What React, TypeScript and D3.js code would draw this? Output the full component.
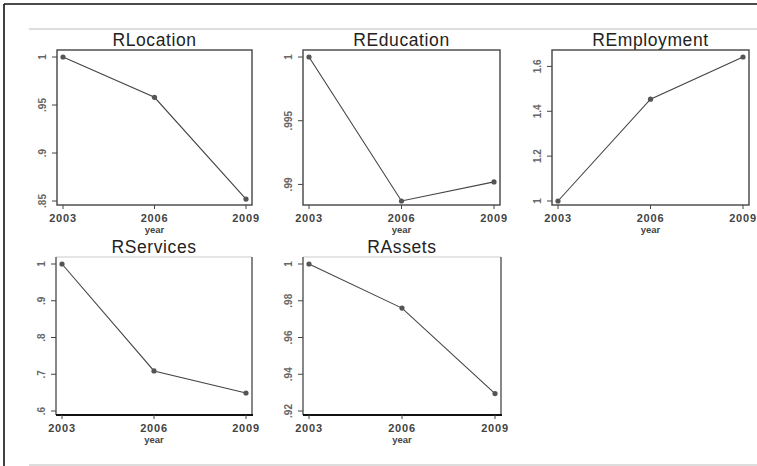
import React from "react";
import * as d3 from "d3";

const years = [2003, 2006, 2009];
const titles = ["RLocation", "REducation", "REmployment", "RServices", "RAssets"];
const rLocation = [1, 0.958, 0.852];
const rEducation = [1, 0.9887, 0.9902];
const rEmployment = [1, 1.454, 1.642];
const rServices = [1, 0.709, 0.649];
const rAssets = [1, 0.976, 0.9295];
const ticksLocation = [0.85, 0.9, 0.95, 1];
const ticksEducation = [0.99, 0.995, 1];
const ticksEmployment = [1, 1.2, 1.4, 1.6];
const ticksServices = [0.6, 0.7, 0.8, 0.9, 1];
const ticksAssets = [0.92, 0.94, 0.96, 0.98, 1];

const fmt = (v: number) => {
  const s = String(+v.toFixed(3));
  return s.startsWith("0.") ? s.slice(1) : s;
};

const panels = [
  { title: titles[0], values: rLocation, ticks: ticksLocation, box: [57, 50, 252, 205], row: 0 },
  { title: titles[1], values: rEducation, ticks: ticksEducation, box: [303, 50, 500, 205], row: 0 },
  { title: titles[2], values: rEmployment, ticks: ticksEmployment, box: [552, 50, 749, 205], row: 0 },
  { title: titles[3], values: rServices, ticks: ticksServices, box: [56, 257, 252, 415], row: 1 },
  { title: titles[4], values: rAssets, ticks: ticksAssets, box: [303, 257, 501, 415], row: 1 },
];

const FONT = "'Liberation Sans', Arial, sans-serif";

function Panel({ p }: { p: (typeof panels)[number] }) {
  const [l, t, r, b] = p.box;
  const x = d3.scaleLinear().domain([2003, 2009]).range([l + 6, r - 6]);
  const lo = Math.min(d3.min(p.values)!, d3.min(p.ticks)!);
  const hi = Math.max(d3.max(p.values)!, d3.max(p.ticks)!);
  const y = d3.scaleLinear().domain([lo, hi]).range([b - 4, t + 7]);
  const line = d3
    .line<number>()
    .x((_, i) => x(years[i]))
    .y((v) => y(v));
  const boxColor = "#444";
  return (
    <g>
      <text x={(l + r) / 2} y={t - 4} textAnchor="middle" fontSize={17.5} letterSpacing={0.6} fill="#222" fontFamily={FONT}>
        {p.title}
      </text>
      {p.row === 0 ? (
        <rect x={l} y={t} width={r - l} height={b - t} fill="none" stroke={boxColor} strokeWidth={1.4} />
      ) : (
        <g>
          <line x1={l} y1={t} x2={r} y2={t} stroke="#ccc" strokeWidth={1.2} />
          <line x1={r} y1={t} x2={r} y2={b} stroke="#555" strokeWidth={1.4} />
          <line x1={l} y1={t} x2={l} y2={b} stroke="#555" strokeWidth={1.4} />
          <line x1={l} y1={b} x2={r + 1} y2={b} stroke="#111" strokeWidth={2.2} />
        </g>
      )}
      {p.ticks.map((tv) => (
        <g key={tv}>
          <line x1={l - 5} x2={l} y1={y(tv)} y2={y(tv)} stroke="#444" strokeWidth={1} />
          <text
            transform={`translate(${l - 14},${y(tv)}) rotate(-90)`}
            textAnchor="middle"
            dominantBaseline="middle"
            fontSize={10}
            fontWeight="bold"
            fill="#666"
            fontFamily={FONT}
          >
            {fmt(tv)}
          </text>
        </g>
      ))}
      {years.map((yr) => (
        <g key={yr}>
          <line x1={x(yr)} x2={x(yr)} y1={b} y2={b + 4} stroke="#444" strokeWidth={1} />
          <text x={x(yr)} y={b + 14} textAnchor="middle" dominantBaseline="middle" fontSize={11} letterSpacing={0.8} fontWeight="bold" fill="#444" fontFamily={FONT}>
            {yr}
          </text>
        </g>
      ))}
      <text x={x(2006)} y={b + 25} textAnchor="middle" dominantBaseline="middle" fontSize={9.5} fontWeight="bold" fill="#444" fontFamily={FONT}>
        year
      </text>
      <path d={line(p.values) || ""} fill="none" stroke="#444" strokeWidth={1.1} />
      {p.values.map((v, i) => (
        <circle key={i} cx={x(years[i])} cy={y(v)} r={2.6} fill="#555" />
      ))}
    </g>
  );
}

export default function App() {
  return (
    <svg
      width={757}
      height={466}
      style={{ position: "absolute", left: 0, top: 0, display: "block", background: "#fff" }}
    >
      <rect x={0} y={0} width={757} height={466} fill="#fff" />
      <line x1={4} y1={4} x2={757} y2={4} stroke="#111" strokeWidth={1.6} />
      <line x1={4} y1={4} x2={4} y2={466} stroke="#111" strokeWidth={1.6} />
      <line x1={29} y1={29} x2={757} y2={29} stroke="#bbb" strokeWidth={1.2} />
      <line x1={29} y1={465} x2={757} y2={465} stroke="#bbb" strokeWidth={1.2} />
      {panels.map((p) => (
        <Panel key={p.title} p={p} />
      ))}
    </svg>
  );
}
